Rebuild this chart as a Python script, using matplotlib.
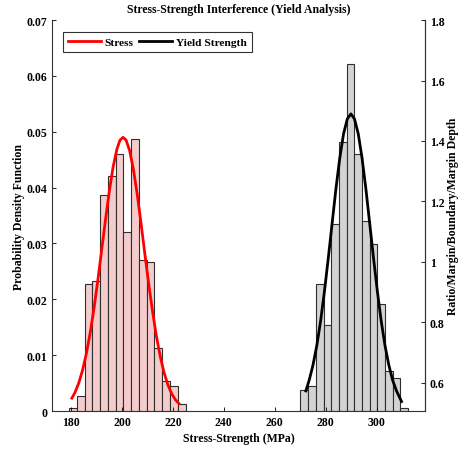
import matplotlib
matplotlib.use("Agg")
import matplotlib.pyplot as plt
from matplotlib.ticker import FuncFormatter
import numpy as np

# Histogram bins (MPa) and heights (pdf-normalised)
stress_edges = [179.2, 182.25, 185.3, 188.35, 191.4, 194.45, 197.5, 200.55, 203.6,
                206.65, 209.7, 212.75, 215.8, 218.85, 221.9, 224.95]
stress_counts = [0.0005, 0.0026, 0.0227, 0.0233, 0.0387, 0.0420, 0.0461, 0.0320,
                 0.0487, 0.0271, 0.0266, 0.0112, 0.0053, 0.0044, 0.0012]

yield_edges = [270.1, 273.12, 276.14, 279.16, 282.18, 285.2, 288.22, 291.24,
               294.26, 297.28, 300.3, 303.32, 306.34, 309.36, 312.38]
yield_counts = [0.0038, 0.0044, 0.0227, 0.0154, 0.0334, 0.0482, 0.0621, 0.0461,
                0.0340, 0.0299, 0.0192, 0.0072, 0.0059, 0.0006]

# Fitted curves, points
stress_fit_x = [180.3, 181.5, 183, 184.5, 186, 187.5, 189, 190.5, 192, 193.5, 195,
                196.5, 198, 199.2, 200.4, 201.6, 203, 204.5, 206, 207.5, 209, 210.5,
                212, 213.5, 215, 216.5, 218, 219.5, 221, 222.4]
stress_fit_y = [0.0023, 0.0033, 0.0050, 0.0073, 0.0103, 0.0140, 0.0184, 0.0234,
                0.0288, 0.0342, 0.0393, 0.0437, 0.0469, 0.0485, 0.0490, 0.0485,
                0.0466, 0.0432, 0.0387, 0.0335, 0.0280, 0.0227, 0.0178, 0.0134,
                0.0098, 0.0069, 0.0047, 0.0031, 0.0020, 0.0013]

yield_fit_x = [272.2, 273.5, 275, 276.5, 278, 279.5, 281, 282.5, 284, 285.5, 287,
               288.5, 289.9, 291.3, 292.8, 294.3, 295.8, 297.3, 298.8, 300.3, 301.8,
               303.3, 304.8, 306.3, 307.8, 309.8]
yield_fit_y = [0.0036, 0.0055, 0.0082, 0.0117, 0.0161, 0.0214, 0.0273, 0.0335,
               0.0397, 0.0452, 0.0496, 0.0523, 0.0532, 0.0523, 0.0496, 0.0452,
               0.0397, 0.0335, 0.0273, 0.0214, 0.0161, 0.0117, 0.0082, 0.0055,
               0.0036, 0.0017]

x_ticks = [180, 200, 220, 240, 260, 280, 300]
left_ticks = [0, 0.01, 0.02, 0.03, 0.04, 0.05, 0.06, 0.07]
right_ticks = [0.6, 0.8, 1.0, 1.2, 1.4, 1.6, 1.8]

plt.rcParams["font.family"] = ["Liberation Serif", "DejaVu Serif"]
plt.rcParams["font.weight"] = "bold"
plt.rcParams["font.size"] = 8.5

fig = plt.figure(figsize=(4.61, 4.60), dpi=100)
ax = fig.add_axes([0.1128, 0.1043, 0.8091, 0.85])

# Histograms
ax.bar(stress_edges[:-1], stress_counts, width=np.diff(stress_edges), align="edge",
       color="#F4CCCC", edgecolor="#2e2e2e", linewidth=0.8)
ax.bar(yield_edges[:-1], yield_counts, width=np.diff(yield_edges), align="edge",
       color="#D3D3D3", edgecolor="#2e2e2e", linewidth=0.8)

# Fit lines
ax.plot(stress_fit_x, stress_fit_y, color="red", linewidth=2, label="Stress")
ax.plot(yield_fit_x, yield_fit_y, color="black", linewidth=2, label="Yield Strength")

ax.set_xlim(172.5, 319.0)
ax.set_ylim(0, 0.07)
ax.set_xticks(x_ticks)
ax.set_yticks(left_ticks)
ax.yaxis.set_major_formatter(FuncFormatter(lambda v, p: "%g" % round(v, 4)))
ax.tick_params(direction="in", length=3, width=0.6)
ax.spines["top"].set_visible(False)
for s in ["left", "bottom", "right"]:
    ax.spines[s].set_linewidth(0.8)
    ax.spines[s].set_color("#333333")

ax.set_xlabel("Stress-Strength (MPa)", fontweight="bold", labelpad=3)
ax.set_ylabel("Probability Density Function", fontweight="bold", fontsize=8.5,
              labelpad=1)
ax.set_title("Stress-Strength Interference (Yield Analysis)", fontweight="bold",
             fontsize=8.5, pad=6)

# Right axis
ax2 = ax.twinx()
ax2.set_ylim(0.507, 1.8)
ax2.set_yticks(right_ticks)
ax2.yaxis.set_major_formatter(FuncFormatter(lambda v, p: "%g" % round(v, 3)))
ax2.tick_params(direction="in", length=3, width=0.6)
ax2.spines["top"].set_visible(False)
ax2.spines["left"].set_visible(False)
ax2.spines["bottom"].set_visible(False)
ax2.spines["right"].set_linewidth(0.8)
ax2.spines["right"].set_color("#333333")
ax2.set_ylabel("Ratio/Margin/Boundary/Margin Depth", fontweight="bold", fontsize=8.5,
               labelpad=2)

leg = ax.legend(loc="upper left", bbox_to_anchor=(0.029, 0.969), borderaxespad=0,
                ncol=2, fancybox=False, handlelength=2.9, columnspacing=0.5,
                handletextpad=0.3, borderpad=0.45, fontsize=8.2)
leg.get_frame().set_edgecolor("black")
leg.get_frame().set_linewidth(0.8)

fig.savefig("out.png", dpi=100)
